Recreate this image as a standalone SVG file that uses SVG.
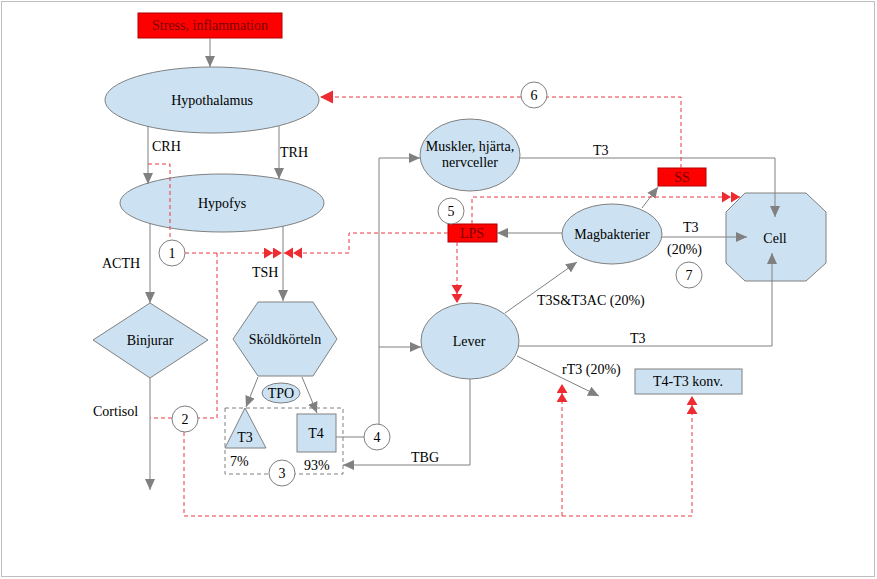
<svg xmlns="http://www.w3.org/2000/svg" width="877" height="579" viewBox="0 0 877 579" font-family="'Liberation Serif','Times New Roman',serif">
<defs>
<style>
.bg{fill:#fff}
.frame{fill:none;stroke:#bfbfbf;stroke-width:1}
.node{fill:#cce2f2;stroke:#808080;stroke-width:1}
.redbox{fill:#ff0000;stroke:#b00000;stroke-width:1}
text{font-family:'Liberation Serif','Times New Roman',serif;font-size:14px}
.t{fill:#000}
.tr{fill:#7a0000}
.c{text-anchor:middle}
.g{fill:none;stroke:#808080;stroke-width:1}
.ga{fill:none;stroke:#808080;stroke-width:1;marker-end:url(#ag)}
.rd{fill:none;stroke:#e8393f;stroke-width:1;stroke-dasharray:4 3}
.circ{fill:#fff;stroke:#808080;stroke-width:1}
.gbox{fill:none;stroke:#808080;stroke-width:1;stroke-dasharray:4 3}
</style>
<marker id="ag" markerUnits="userSpaceOnUse" markerWidth="12" markerHeight="12" refX="11" refY="5" orient="auto">
<path d="M0,0 L11,5 L0,10 z" fill="#808080"/>
</marker>
<marker id="ar" markerUnits="userSpaceOnUse" markerWidth="14" markerHeight="14" refX="13" refY="6.5" orient="auto">
<path d="M0,0 L13,6.5 L0,13 z" fill="#ee2b31"/>
</marker>
<marker id="ar2" markerUnits="userSpaceOnUse" markerWidth="20" markerHeight="12" refX="18" refY="5.5" orient="auto">
<path d="M0,0 L9,5.5 L0,11 z M9,0 L18,5.5 L9,11 z" fill="#ee2b31"/>
</marker>
</defs>
<rect class="bg" x="0" y="0" width="877" height="579"/>
<rect class="frame" x="1.5" y="1.5" width="873" height="575"/>

<g id="stress">
<rect class="redbox" x="138" y="13" width="144" height="25"/>
<text class="tr c" x="210" y="30">Stress, inflammation</text>
</g>
<g id="hypothalamus">
<ellipse class="node" cx="212" cy="100" rx="107" ry="33"/>
<text class="t c" x="212" y="105">Hypothalamus</text>
</g>
<g id="hypofys">
<ellipse class="node" cx="222" cy="203" rx="102" ry="29"/>
<text class="t c" x="222" y="208">Hypofys</text>
</g>
<g id="binjurar">
<polygon class="node" points="150,303 208,340 150,378 93,340"/>
<text class="t c" x="150" y="345">Binjurar</text>
</g>
<g id="skoldkorteln">
<polygon class="node" points="233,339 258,302 313,302 337,339 313,376 258,376"/>
<text class="t c" x="285" y="344">Sköldkörteln</text>
</g>
<g id="tpo">
<ellipse class="node" cx="281" cy="393" rx="19" ry="10"/>
<text class="t c" x="281" y="398">TPO</text>
</g>
<g id="group3">
<rect class="gbox" x="225" y="408" width="118" height="66"/>
</g>
<g id="t3">
<polygon class="node" points="245,408 266,448 225,448"/>
<text class="t c" x="245" y="442">T3</text>
<text class="t" x="230" y="466">7%</text>
</g>
<g id="t4">
<rect class="node" x="297" y="414" width="39" height="38"/>
<text class="t c" x="316" y="438">T4</text>
<text class="t" x="304" y="470">93%</text>
</g>
<g id="muskler">
<ellipse class="node" cx="470" cy="155" rx="50" ry="36"/>
<text class="t c" x="470" y="151">Muskler, hjärta,</text>
<text class="t c" x="470" y="167">nervceller</text>
</g>
<g id="lever">
<ellipse class="node" cx="470" cy="341" rx="49" ry="38"/>
<text class="t c" x="469" y="346">Lever</text>
</g>
<g id="magbakterier">
<ellipse class="node" cx="612" cy="234" rx="50" ry="30"/>
<text class="t c" x="612" y="239">Magbakterier</text>
</g>
<g id="lps">
<rect class="redbox" x="448" y="224" width="49" height="18"/>
<text class="tr c" x="472" y="238">LPS</text>
</g>
<g id="ss">
<rect class="redbox" x="658" y="168" width="48" height="18"/>
<text class="tr c" x="682" y="182">SS</text>
</g>
<g id="cell">
<polygon class="node" points="745,193 806,193 826,212 826,263 806,281 745,281 726,263 726,212"/>
<text class="t c" x="775" y="243">Cell</text>
</g>
<g id="konv">
<rect class="node" x="635" y="369" width="107" height="25"/>
<text class="t c" x="688" y="386">T4-T3 konv.</text>
</g>

<g id="connectors">
<path class="ga" d="M210,38 V67"/>
<path class="ga" d="M148,126 V184"/>
<path class="ga" d="M279,126 V179"/>
<path class="ga" d="M150,223 V303"/>
<path class="ga" d="M283,226 V301"/>
<path class="ga" d="M150,378 V490"/>
<path class="ga" d="M258,377 L246,407"/>
<path class="ga" d="M302,377 L317,413"/>
<path class="g" d="M336,437 H364"/>
<path class="ga" d="M379,424 V158 H420"/>
<path class="ga" d="M379,347 H421"/>
<path class="ga" d="M470,379 V465 H343"/>
<path class="ga" d="M505,313 L577,262"/>
<path class="ga" d="M519,346 H772 V253"/>
<path class="ga" d="M517,356 L599,396"/>
<path class="ga" d="M519,158 H775 V217"/>
<path class="ga" d="M562,233 H497"/>
<path class="ga" d="M662,237 H747"/>
<path class="ga" d="M642,208 L658,187"/>

<path class="rd" d="M148,164 H170 V240"/>
<path class="rd" d="M185,253 H282" marker-end="url(#ar2)"/>
<path class="rd" d="M217,253 V418 H198"/>
<path class="rd" d="M172,418 H150"/>
<path class="rd" d="M184,432 V516 H692 V396" marker-end="url(#ar2)"/>
<path class="rd" d="M562,516 V384" marker-end="url(#ar2)"/>
<path class="rd" d="M448,233 H349 V253 H284" marker-end="url(#ar2)"/>
<path class="rd" d="M472,224 V197 H740" marker-end="url(#ar2)"/>
<path class="rd" d="M457,242 V303" marker-end="url(#ar2)"/>
<path class="rd" d="M681,168 V97 H547"/>
<path class="rd" d="M521,97 H320" marker-end="url(#ar)"/>

<text class="t" x="152" y="151">CRH</text>
<text class="t" x="280" y="157">TRH</text>
<text class="t" x="102" y="268">ACTH</text>
<text class="t" x="252" y="277">TSH</text>
<text class="t" x="93" y="416">Cortisol</text>
<text class="t" x="411" y="462">TBG</text>
<text class="t" x="593" y="155">T3</text>
<text class="t" x="683" y="232">T3</text>
<text class="t" x="667" y="254">(20%)</text>
<text class="t" x="537" y="305">T3S&amp;T3AC (20%)</text>
<text class="t" x="630" y="343">T3</text>
<text class="t" x="562" y="374">rT3 (20%)</text>
</g>

<g id="c1"><circle class="circ" cx="172" cy="253" r="13"/><text class="t c" x="172" y="258">1</text></g>
<g id="c2"><circle class="circ" cx="185" cy="419" r="13"/><text class="t c" x="185" y="424">2</text></g>
<g id="c3"><circle class="circ" cx="282" cy="473" r="13"/><text class="t c" x="282" y="478">3</text></g>
<g id="c4"><circle class="circ" cx="377" cy="437" r="13"/><text class="t c" x="377" y="442">4</text></g>
<g id="c5"><circle class="circ" cx="451" cy="211" r="13"/><text class="t c" x="451" y="216">5</text></g>
<g id="c6"><circle class="circ" cx="534" cy="95" r="13"/><text class="t c" x="534" y="100">6</text></g>
<g id="c7"><circle class="circ" cx="689" cy="275" r="13"/><text class="t c" x="689" y="280">7</text></g>
</svg>
